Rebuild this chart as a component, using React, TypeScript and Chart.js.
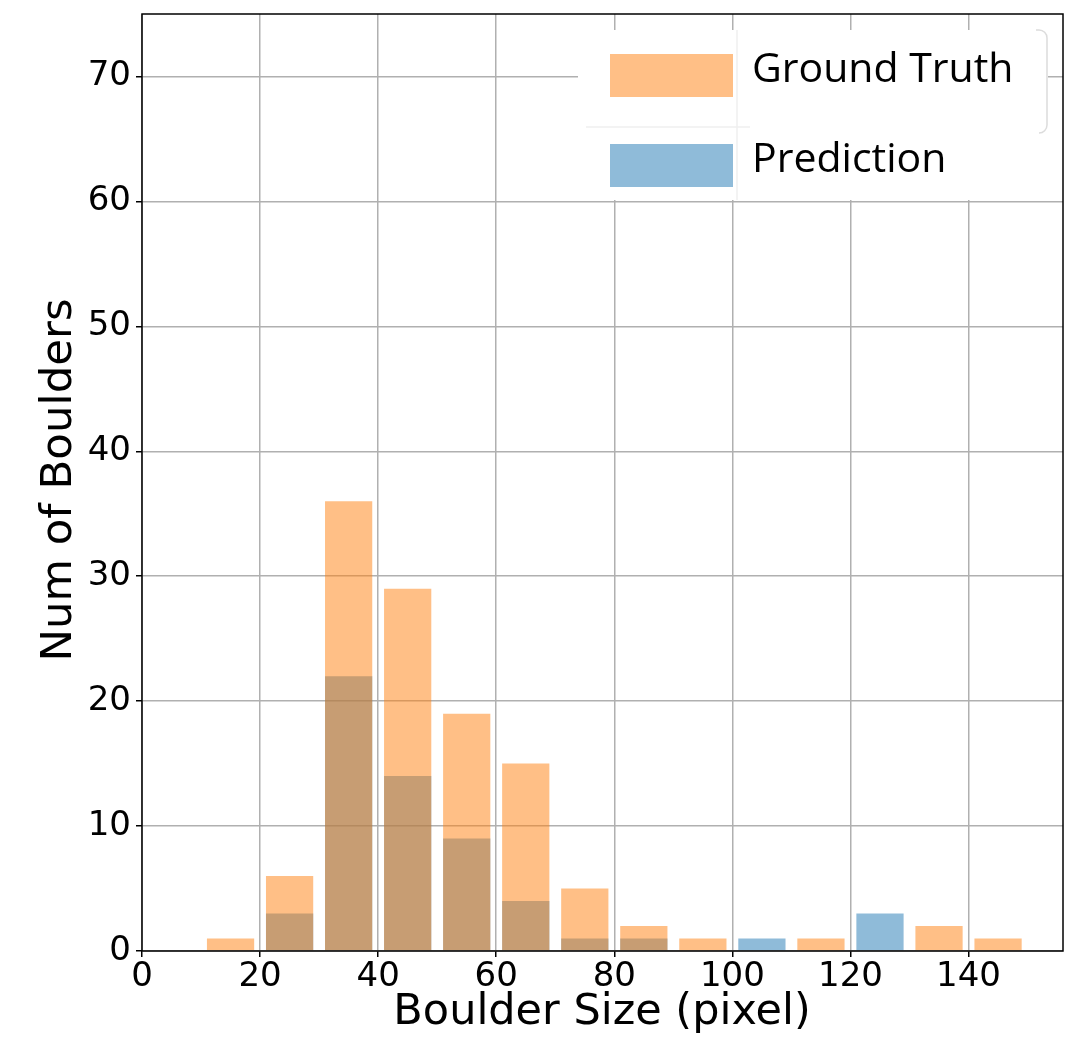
import React, { useEffect, useRef } from "react";
import { Chart, registerables } from "chart.js";

Chart.register(...registerables);

const binStarts = [10, 20, 30, 40, 50, 60, 70, 80, 90, 100, 110, 120, 130, 140];
const binWidth = 10;
const groundTruth = [1, 6, 36, 29, 19, 15, 5, 2, 1, 0, 1, 0, 2, 1];
const prediction = [0, 3, 22, 14, 9, 4, 1, 1, 0, 1, 0, 3, 0, 0];
const seriesLabels = ["Ground Truth", "Prediction"];
const xTickStep = 20;
const yTickStep = 10;
const xMax = 156;
const yMax = 75;

const orangeFill = "rgba(255,127,14,0.5)";
const blueFill = "rgba(31,119,180,0.5)";
const orangeLegend = "rgb(255,191,134)";
const blueLegend = "rgb(143,187,217)";

const overlayPlugin = {
  id: "overlay",
  afterDraw(chart: any) {
    const { ctx, chartArea } = chart;
    const { left, right, top, bottom } = chartArea;
    ctx.save();
    // axes frame
    ctx.strokeStyle = "#000";
    ctx.lineWidth = 1.5;
    ctx.strokeRect(left, top, right - left, bottom - top);

    // axis titles
    ctx.fillStyle = "#000";
    ctx.font = "43px 'DejaVu Sans'";
    ctx.textAlign = "center";
    ctx.textBaseline = "middle";
    ctx.fillText("Boulder Size (pixel)", 602, 1013);
    ctx.save();
    ctx.translate(60, 480);
    ctx.rotate(-Math.PI / 2);
    ctx.font = "43.5px 'DejaVu Sans'";
    ctx.fillText("Num of Boulders", 0, 0);
    ctx.restore();

    // legend box
    const lx = 578;
    const ly = 30;
    ctx.fillStyle = "#fff";
    ctx.fillRect(lx, ly, 470, 170);
    ctx.strokeStyle = "#dcdcdc";
    ctx.lineWidth = 1.5;
    ctx.beginPath();
    ctx.moveTo(1036, 30);
    ctx.arcTo(1047, 30, 1047, 40, 8);
    ctx.lineTo(1047, 125);
    ctx.arcTo(1047, 133, 1036, 133, 8);
    ctx.stroke();
    ctx.strokeStyle = "#f0f0f0";
    ctx.beginPath();
    ctx.moveTo(586, 127);
    ctx.lineTo(750, 127);
    ctx.moveTo(737, 30);
    ctx.lineTo(737, 200);
    ctx.stroke();

    const colors = [orangeLegend, blueLegend];
    const rowsY = [54, 144];
    ctx.font = "41px 'Open Sans'";
    ctx.textAlign = "left";
    ctx.textBaseline = "middle";
    seriesLabels.forEach((lab, i) => {
      ctx.fillStyle = colors[i];
      ctx.fillRect(610, rowsY[i], 123, 43);
      ctx.fillStyle = "#000";
      ctx.fillText(lab, 752, rowsY[i] + 16);
    });
    ctx.restore();
  },
};

export default function App() {
  const ref = useRef<HTMLCanvasElement | null>(null);
  useEffect(() => {
    document.body.style.margin = "0";
    const centers = binStarts.map((s) => s + binWidth / 2);
    const chart = new Chart(ref.current as HTMLCanvasElement, {
      type: "bar",
      data: {
        datasets: [
          {
            label: seriesLabels[0],
            data: centers.map((x, i) => ({ x, y: groundTruth[i] })),
            backgroundColor: orangeFill,
            borderWidth: 0,
            grouped: false,
            barPercentage: 0.8,
            categoryPercentage: 1,
          },
          {
            label: seriesLabels[1],
            data: centers.map((x, i) => ({ x, y: prediction[i] })),
            backgroundColor: blueFill,
            borderWidth: 0,
            grouped: false,
            barPercentage: 0.8,
            categoryPercentage: 1,
          },
        ] as any,
      },
      options: {
        animation: false,
        responsive: true,
        maintainAspectRatio: false,
        layout: { padding: { top: 14, right: 24, left: 0, bottom: 0 } },
        plugins: { legend: { display: false }, tooltip: { enabled: false } },
        scales: {
          x: {
            type: "linear",
            min: 0,
            max: xMax,
            offset: false,
            afterBuildTicks: (s: any) => {
              s.ticks = s.ticks.filter((t: any) => t.value % xTickStep === 0);
            },
            afterFit: (s: any) => {
              s.height = 87;
              s.paddingLeft = 0;
              s.paddingRight = 0;
            },
            ticks: {
              stepSize: xTickStep,
              color: "#000",
              font: { family: "'DejaVu Sans'", size: 34 },
              padding: 0,
              maxRotation: 0,
              autoSkip: false,
            },
            grid: {
              offset: false,
              color: "#b0b0b0",
              lineWidth: 1.5,
              tickLength: 6,
              tickColor: "#000",
              tickWidth: 1.5,
            },
            border: { display: false },
          },
          y: {
            min: 0,
            max: yMax,
            afterBuildTicks: (s: any) => {
              s.ticks = s.ticks.filter((t: any) => t.value % yTickStep === 0);
            },
            afterFit: (s: any) => {
              s.width = 142;
              s.paddingTop = 0;
              s.paddingBottom = 0;
            },
            ticks: {
              stepSize: yTickStep,
              color: "#000",
              font: { family: "'DejaVu Sans'", size: 34 },
              padding: 5,
              autoSkip: false,
            },
            grid: {
              color: "#b0b0b0",
              lineWidth: 1.5,
              tickLength: 6,
              tickColor: "#000",
              tickWidth: 1.5,
            },
            border: { display: false },
          },
        },
      } as any,
      plugins: [overlayPlugin],
    });
    return () => chart.destroy();
  }, []);
  return (
    <div style={{ position: "absolute", left: 0, top: 0, width: 1087, height: 1038, background: "#fff" }}>
      <canvas ref={ref} />
    </div>
  );
}
